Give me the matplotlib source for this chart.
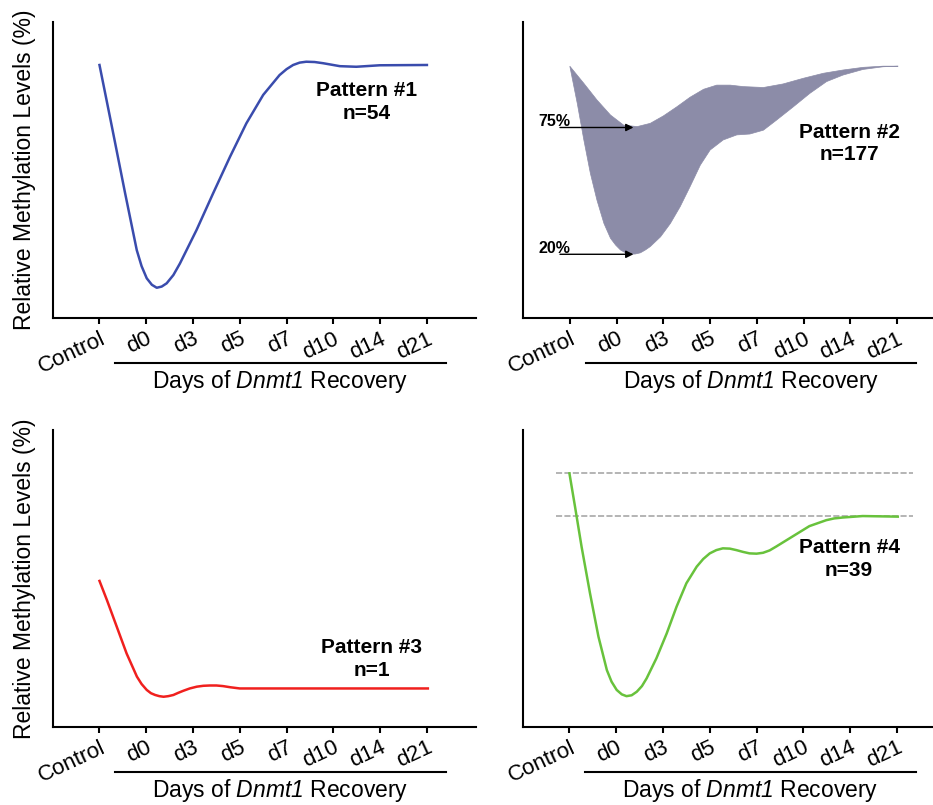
#-----------------------------------------------------------------#
# Patrones de metilacion tras la recuperacion de Dnmt1
#-----------------------------------------------------------------#
import numpy as np
import matplotlib.pyplot as plt
import matplotlib.transforms as mtransforms

plt.rcParams['font.family'] = 'Liberation Sans'
plt.rcParams['mathtext.fontset'] = 'custom'
plt.rcParams['mathtext.rm'] = 'Liberation Sans:italic'
plt.rcParams['mathtext.it'] = 'Liberation Sans:italic'

#-----------------------------------------------------------------#
# Datos (escala relativa 0-100)

tick_labels = ['Control', 'd0', 'd3', 'd5', 'd7', 'd10', 'd14', 'd21']

# Pattern #1
p1_x = [0, 0.265, 0.548, 0.797, 0.9, 1.01, 1.12, 1.224, 1.33, 1.436, 1.58, 1.72, 2.075,
        2.43, 2.79, 3.14, 3.50, 3.85, 4.0, 4.14, 4.28, 4.42, 4.6, 4.78, 5.14, 5.49, 5.99, 7.0]
p1_y = [85.4, 64.6, 42.1, 22.9, 17.5, 13.4, 11.2, 10.2, 10.6, 11.7, 14.5, 18.4, 29.7,
        42.1, 54.4, 65.7, 75.3, 82.0, 84.0, 85.4, 86.2, 86.5, 86.4, 86.0, 85.0, 84.8, 85.3, 85.4]

# Pattern #2 (banda entre el 75% y el 20%)
p2_up_x = [0, 0.30, 0.58, 0.87, 1.15, 1.44, 1.72, 2.00, 2.29, 2.57, 2.86, 3.14, 3.43,
           3.71, 4.14, 4.56, 4.99, 5.42, 5.84, 6.27, 6.70, 7.02]
p2_up_y = [85.0, 79.2, 73.6, 68.5, 65.1, 64.6, 65.7, 68.2, 71.3, 74.5, 77.2, 78.6, 78.6,
           78.1, 77.8, 79.0, 80.9, 82.6, 83.7, 84.6, 85.0, 85.0]
p2_lo_x = [0, 0.16, 0.30, 0.44, 0.58, 0.73, 0.87, 0.98, 1.08, 1.18, 1.29, 1.40, 1.51, 1.62,
           1.72, 1.94, 2.15, 2.36, 2.57, 2.79, 3.00, 3.28, 3.57, 3.85, 4.14, 4.42, 4.78,
           5.13, 5.49, 5.84, 6.27, 6.70, 7.02]
p2_lo_y = [85.0, 72.4, 60.1, 48.8, 39.8, 31.9, 26.9, 24.6, 23.0, 22.1, 21.5, 21.6, 22.0, 23.0,
           24.1, 27.4, 31.9, 37.6, 44.3, 51.6, 56.7, 60.1, 61.8, 62.1, 63.4, 66.8, 71.3,
           75.8, 79.8, 82.0, 83.9, 84.8, 85.0]
p2_q75 = 64.3
p2_q20 = 21.5

# Pattern #3
p3_x = [0, 0.16, 0.37, 0.58, 0.80, 0.9, 1.01, 1.1, 1.19, 1.28, 1.37, 1.47, 1.58, 1.68,
        1.79, 1.93, 2.08, 2.22, 2.36, 2.5, 2.64, 2.8, 3.00, 7.02]
p3_y = [49.2, 42.7, 33.7, 24.7, 16.9, 14.4, 12.4, 11.3, 10.7, 10.3, 10.1, 10.3, 10.7, 11.4,
        12.1, 12.9, 13.5, 13.8, 13.9, 13.9, 13.7, 13.3, 12.9, 12.9]

# Pattern #4
p4_x = [0, 0.12, 0.26, 0.44, 0.62, 0.80, 0.9, 1.01, 1.12, 1.22, 1.33, 1.44, 1.55, 1.65,
        1.86, 2.08, 2.29, 2.50, 2.72, 2.86, 3.00, 3.14, 3.28, 3.43, 3.57, 3.71, 3.85, 4.0,
        4.14, 4.28, 4.42, 4.78, 5.13, 5.49, 5.66, 5.84, 6.27, 7.02]
p4_y = [85.5, 74.2, 60.7, 45.0, 30.4, 19.1, 15.2, 12.4, 10.9, 10.3, 10.6, 11.8, 13.7, 16.3,
        23.1, 31.5, 40.5, 48.4, 54.0, 56.6, 58.5, 59.6, 60.2, 60.1, 59.6, 59.0, 58.5, 58.4,
        58.7, 59.5, 60.8, 64.3, 67.7, 69.7, 70.3, 70.6, 71.1, 70.9]
p4_ref = [85.7, 71.1]

#-----------------------------------------------------------------#

fig = plt.figure(figsize=(9.33, 8.05), dpi=100)

W = 0.4537
H = 0.368
ax1 = fig.add_axes([0.0565, 0.605, W, H])
ax2 = fig.add_axes([0.5606, 0.605, W, H])
ax3 = fig.add_axes([0.0565, 0.0973, W, H])
ax4 = fig.add_axes([0.5602, 0.0973, W, H])


def estilo(ax, ylabel=True):
    ax.set_xlim(-1, 8.05)
    ax.set_ylim(0, 100)
    ax.spines['top'].set_visible(False)
    ax.spines['right'].set_visible(False)
    ax.spines['left'].set_linewidth(1.5)
    ax.spines['bottom'].set_linewidth(1.5)
    ax.set_yticks([])
    ax.set_xticks(range(len(tick_labels)))
    ax.set_xticklabels(tick_labels, fontsize=16)
    ax.tick_params(axis='x', direction='out', length=4.5, width=1.5, pad=3)
    plt.setp(ax.get_xticklabels(), rotation=25, ha='right', rotation_mode='anchor')
    if ylabel:
        ax.set_ylabel('Relative Methylation Levels (%)', fontsize=16.5, labelpad=12)
    tr = mtransforms.blended_transform_factory(ax.transData, ax.transAxes)
    ax.plot([0.34, 7.41], [-0.152, -0.152], color='black', lw=1.5,
            transform=tr, clip_on=False)
    ax.text(3.87, -0.216, 'Days of $\\mathrm{Dnmt1}$ Recovery', fontsize=16.5,
            ha='center', va='center', transform=tr)


for ax, yl in [(ax1, True), (ax2, False), (ax3, True), (ax4, False)]:
    estilo(ax, yl)

# Pattern #1
ax1.plot(p1_x, p1_y, color='#3a4cad', lw=1.8, solid_joinstyle='round')
ax1.text(5.72, 73, 'Pattern #1\nn=54', fontsize=15, fontweight='bold',
         ha='center', va='center', multialignment='center', linespacing=1.25)

# Pattern #2
ax2.fill(np.r_[p2_up_x, p2_lo_x[::-1]], np.r_[p2_up_y, p2_lo_y[::-1]],
         color='#8c8ca8', lw=0.5)
for q, lab in [(p2_q75, '75%'), (p2_q20, '20%')]:
    ax2.annotate('', xy=(1.36, q), xytext=(-0.21, q),
                 arrowprops=dict(arrowstyle='-|>', color='black', lw=1,
                                 mutation_scale=11, shrinkA=0, shrinkB=0))
    ax2.text(-0.68, q + 0.6, lab, fontsize=11.5, fontweight='bold',
             ha='left', va='baseline')
ax2.text(5.98, 58.9, 'Pattern #2\nn=177', fontsize=15, fontweight='bold',
         ha='center', va='center', multialignment='center', linespacing=1.25)

# Pattern #3
ax3.plot(p3_x, p3_y, color='#f0201e', lw=1.8, solid_joinstyle='round')
ax3.text(5.82, 22.8, 'Pattern #3\nn=1', fontsize=15, fontweight='bold',
         ha='center', va='center', multialignment='center', linespacing=1.25)

# Pattern #4
for r in p4_ref:
    ax4.axhline(r, xmin=(-0.28 + 1) / 9.05, xmax=(7.35 + 1) / 9.05,
                color='#a0a0a0', lw=1.1, ls=(0, (4, 1.5)))
ax4.plot(p4_x, p4_y, color='#68c23c', lw=1.8, solid_joinstyle='round')
ax4.text(5.98, 56.6, 'Pattern #4\nn=39', fontsize=15, fontweight='bold',
         ha='center', va='center', multialignment='center', linespacing=1.25)

plt.savefig('out.png', dpi=100)
